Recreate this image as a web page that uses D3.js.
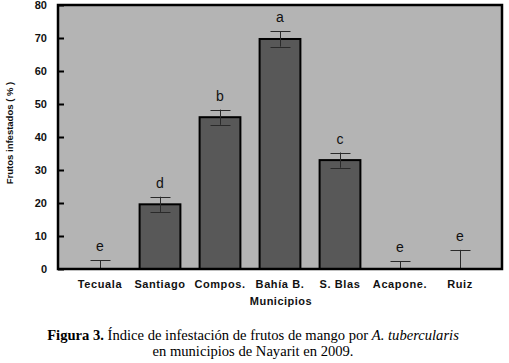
<!DOCTYPE html>
<html>
<head>
<meta charset="utf-8">
<script src="https://cdn.jsdelivr.net/npm/d3@7"></script>
<style>
  body { margin: 0; background: #fff; }
  svg { display: block; }
</style>
</head>
<body>
<svg id="chart" width="509" height="363"></svg>
<script>
// municipios y valores
var municipios = ["Tecuala", "Santiago", "Compos.", "Bahía B.", "S. Blas", "Acapone.", "Ruiz"];
var infestacion = [0, 19.6, 46.0, 69.7, 33.0, 0, 0.3];
var errores = [2.7, 2.3, 2.3, 2.3, 2.3, 2.4, 5.5];
var letras = ["e", "d", "b", "a", "c", "e", "e"];
var yTicks = [0, 10, 20, 30, 40, 50, 60, 70, 80];

var svg = d3.select("#chart");
var plotL = 58, plotR = 502, plotT = 5, plotB = 269;
var sans = "Arial, 'Liberation Sans', sans-serif";

var x = d3.scaleBand()
    .domain(municipios)
    .range([plotL, plotR])
    .paddingInner(0.32)
    .paddingOuter(0.36);

var y = d3.scaleLinear()
    .domain([0, 80])
    .range([plotB, plotT]);

// plot background
svg.append("rect")
    .attr("x", plotL).attr("y", plotT)
    .attr("width", plotR - plotL).attr("height", plotB - plotT)
    .attr("fill", "#b4b4b4");

// bars
svg.selectAll("rect.bar")
    .data(municipios)
    .enter().append("rect")
    .attr("class", "bar")
    .attr("x", function(d){ return x(d); })
    .attr("y", function(d, i){ return y(infestacion[i]); })
    .attr("width", x.bandwidth())
    .attr("height", function(d, i){ return y(0) - y(infestacion[i]); })
    .attr("fill", "#585858")
    .attr("stroke", "#000")
    .attr("stroke-width", function(d, i){ return infestacion[i] > 1 ? 2 : 0; });

// error bars
var eb = svg.append("g").attr("stroke", "#2a2a2a").attr("stroke-width", 1);
municipios.forEach(function(d, i){
    var cx = Math.round(x(d) + x.bandwidth() / 2) + 0.5;
    var lo = Math.max(0, infestacion[i] - errores[i]);
    var hi = infestacion[i] + errores[i];
    eb.append("line")
        .attr("x1", cx).attr("x2", cx)
        .attr("y1", y(lo)).attr("y2", y(hi));
    eb.append("line")
        .attr("x1", cx - 10).attr("x2", cx + 10)
        .attr("y1", Math.round(y(hi)) + 0.5).attr("y2", Math.round(y(hi)) + 0.5);
    if (infestacion[i] > 1)
        eb.append("line")
            .attr("x1", cx - 10).attr("x2", cx + 10)
            .attr("y1", Math.round(y(lo)) + 0.5).attr("y2", Math.round(y(lo)) + 0.5);
});

// significance letters
svg.selectAll("text.letra")
    .data(municipios)
    .enter().append("text")
    .attr("class", "letra")
    .attr("x", function(d){ return x(d) + x.bandwidth() / 2; })
    .attr("y", function(d, i){ return y(infestacion[i] + errores[i]) - 9; })
    .attr("text-anchor", "middle")
    .attr("font-family", sans)
    .attr("font-size", 14)
    .attr("fill", "#111")
    .text(function(d, i){ return letras[i]; });

// frame
svg.append("rect")
    .attr("x", plotL).attr("y", plotT)
    .attr("width", plotR - plotL).attr("height", plotB - plotT)
    .attr("fill", "none")
    .attr("stroke", "#000")
    .attr("stroke-width", 2.5);

// y axis (ticks inward)
var yAxis = svg.append("g")
    .attr("transform", "translate(" + plotL + ",0)")
    .call(d3.axisLeft(y).tickValues(yTicks).tickSize(-6).tickPadding(11).tickFormat(d3.format("d")));
yAxis.select(".domain").remove();
yAxis.selectAll("line").attr("stroke", "#000").attr("stroke-width", 2);
yAxis.selectAll("text")
    .attr("font-family", sans)
    .attr("font-size", 11)
    .attr("font-weight", "bold")
    .attr("fill", "#111");

// x axis labels
var xAxis = svg.append("g")
    .attr("transform", "translate(0," + plotB + ")")
    .call(d3.axisBottom(x).tickSize(0).tickPadding(11));
xAxis.select(".domain").remove();
xAxis.selectAll("text")
    .attr("font-family", sans)
    .attr("font-size", 11)
    .attr("letter-spacing", 0.6)
    .attr("font-weight", "bold")
    .attr("fill", "#111");

// axis titles
svg.append("text")
    .attr("x", (plotL + plotR) / 2 + 1).attr("y", 305)
    .attr("text-anchor", "middle")
    .attr("font-family", sans)
    .attr("font-size", 11)
    .attr("letter-spacing", 0.5)
    .attr("font-weight", "bold")
    .attr("fill", "#111")
    .text("Municipios");

svg.append("text")
    .attr("transform", "translate(13,133) rotate(-90)")
    .attr("text-anchor", "middle")
    .attr("font-family", sans)
    .attr("font-size", 9.5)
    .attr("font-weight", "bold")
    .attr("fill", "#111")
    .text("Frutos infestados ( % )");

// caption
var serif = "'Times New Roman', 'Liberation Serif', serif";
var cap1 = svg.append("text")
    .attr("x", 253).attr("y", 340)
    .attr("text-anchor", "middle")
    .attr("font-family", serif)
    .attr("font-size", 14.6)
    .attr("fill", "#000");
cap1.append("tspan").attr("font-weight", "bold").text("Figura 3.");
cap1.append("tspan").text(" Índice de infestación de frutos de mango por ");
cap1.append("tspan").attr("font-style", "italic").text("A. tubercularis");

svg.append("text")
    .attr("x", 253).attr("y", 356)
    .attr("text-anchor", "middle")
    .attr("font-family", serif)
    .attr("font-size", 14.6)
    .attr("fill", "#000")
    .text("en municipios de Nayarit en 2009.");
</script>
</body>
</html>
